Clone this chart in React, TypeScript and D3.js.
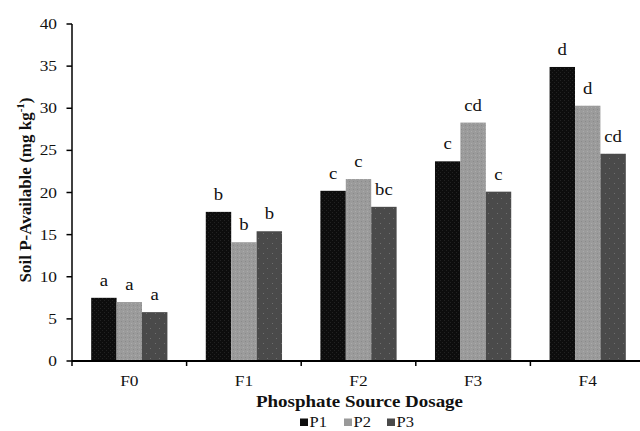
import React from "react";
import * as d3 from "d3";

const categories = ["F0", "F1", "F2", "F3", "F4"];
const seriesNames = ["P1", "P2", "P3"];
const p1Values = [7.5, 17.7, 20.2, 23.7, 34.9];
const p2Values = [7.0, 14.1, 21.6, 28.3, 30.3];
const p3Values = [5.8, 15.4, 18.3, 20.1, 24.6];
const p1Letters = ["a", "b", "c", "c", "d"];
const p2Letters = ["a", "b", "c", "cd", "d"];
const p3Letters = ["a", "b", "bc", "c", "cd"];
const yTicks = [0, 5, 10, 15, 20, 25, 30, 35, 40];

const seriesValues = [p1Values, p2Values, p3Values];
const seriesLetters = [p1Letters, p2Letters, p3Letters];
const fills = ["url(#patP1)", "url(#patP2)", "url(#patP3)"];
const legendFills = ["#0e0e0e", "#999999", "#4a4a4a"];

const W = 640;
const H = 431;
const FONT = "'Liberation Serif', 'Times New Roman', serif";

export default function App() {
  const x = d3.scaleBand<string>().domain(categories).range([72, 645]).paddingInner(0).paddingOuter(0);
  const y = d3.scaleLinear().domain([0, 40]).range([361, 24]);
  const inner = d3
    .scaleBand<string>()
    .domain(seriesNames)
    .range([0, x.bandwidth()])
    .paddingOuter(0.755)
    .paddingInner(0);
  const bw = inner.bandwidth();
  const boundaries = categories.map((c) => x(c) as number);

  return (
    <svg
      width={W}
      height={H}
      style={{ position: "absolute", left: 0, top: 0, background: "#fff" }}
      fontFamily={FONT}
    >
      <defs>
        <pattern id="patP1" width="4" height="4" patternUnits="userSpaceOnUse">
          <rect width="4" height="4" fill="#0d0d0d" />
          <rect x="0" y="0" width="1" height="1" fill="#222" />
          <rect x="2" y="2" width="1" height="1" fill="#222" />
        </pattern>
        <pattern id="patP2" width="4" height="4" patternUnits="userSpaceOnUse">
          <rect width="4" height="4" fill="#9b9b9b" />
          <rect x="1" y="1" width="1" height="1" fill="#8a8a8a" />
          <rect x="3" y="3" width="1" height="1" fill="#ababab" />
        </pattern>
        <pattern id="patP3" width="9" height="10" patternUnits="userSpaceOnUse">
          <rect width="9" height="10" fill="#4a4a4a" />
          <rect x="2" y="3" width="1" height="1" fill="#6e6e6e" />
          <rect x="6" y="8" width="1" height="1" fill="#6e6e6e" />
        </pattern>
      </defs>

      {/* bars */}
      {categories.map((c, ci) =>
        seriesNames.map((s, si) => {
          const v = seriesValues[si][ci];
          const bx = (x(c) as number) + (inner(s) as number);
          const by = y(v);
          return (
            <g key={c + s}>
              <rect x={bx} y={by} width={bw} height={y(0) - by} fill={fills[si]} />
              <text
                transform={`translate(${bx + bw / 2},${by - 12}) scale(1.1,1)`}
                textAnchor="middle"
                fontSize={17}
                fill="#111"
              >
                {seriesLetters[si][ci]}
              </text>
            </g>
          );
        })
      )}

      {/* y axis */}
      <line x1={72} x2={72} y1={y(40)} y2={y(0)} stroke="#000" strokeWidth={1.5} />
      {yTicks.map((t) => (
        <g key={t}>
          <line x1={66.5} x2={72} y1={y(t)} y2={y(t)} stroke="#000" strokeWidth={1.5} />
          <text
            transform={`translate(57,${y(t) + 5}) scale(1.12,1)`}
            textAnchor="end"
            fontSize={15.5}
            fill="#111"
          >
            {t}
          </text>
        </g>
      ))}

      {/* x axis */}
      <line x1={72} x2={640} y1={y(0)} y2={y(0)} stroke="#000" strokeWidth={2} />
      {boundaries.map((bx, i) => (
        <line key={i} x1={bx} x2={bx} y1={y(0)} y2={y(0) + 5} stroke="#000" strokeWidth={1.5} />
      ))}
      {categories.map((c) => (
        <text
          key={c}
          transform={`translate(${(x(c) as number) + x.bandwidth() / 2},386) scale(1.12,1)`}
          textAnchor="middle"
          fontSize={15.5}
          fill="#111"
        >
          {c}
        </text>
      ))}

      {/* axis titles */}
      <text
        x={359.5}
        y={406.5}
        textAnchor="middle"
        fontSize={17}
        fontWeight="bold"
        textLength={207}
        lengthAdjust="spacingAndGlyphs"
        fill="#111"
      >
        Phosphate Source Dosage
      </text>
      <text
        transform="translate(31,190) rotate(-90)"
        textAnchor="middle"
        fontSize={17}
        fontWeight="bold"
        fill="#111"
      >
        Soil P-Available (mg kg
        <tspan fontSize={11} dy={-7}>-1</tspan>
        <tspan dy={7}>)</tspan>
      </text>

      {/* legend */}
      {seriesNames.map((s, i) => {
        const lx = [300, 344, 387][i];
        return (
          <g key={s}>
            <rect x={lx} y={418.5} width={8} height={7.5} fill={legendFills[i]} />
            <text
              transform={`translate(${lx + 9.5},427) scale(1.1,1)`}
              fontSize={15}
              fill="#111"
            >
              {s}
            </text>
          </g>
        );
      })}
    </svg>
  );
}
